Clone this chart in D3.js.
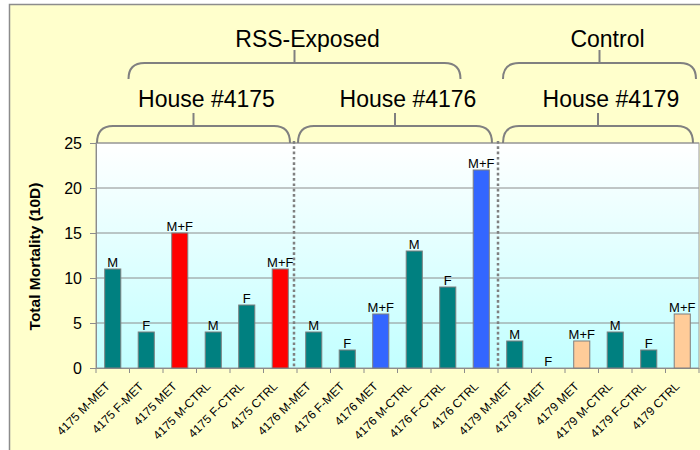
<!DOCTYPE html>
<html>
<head>
<meta charset="UTF-8">
<title>Total Mortality (10D)</title>
<script src="https://d3js.org/d3.v7.min.js"></script>
<style>
  body { margin: 0; background: #fff; }
  svg { display: block; font-family: Arial, 'Liberation Sans', sans-serif; }
</style>
</head>
<body>
<div id="chart"></div>
<script>
// data
const categories = [
  "4175 M-MET", "4175 F-MET", "4175 MET", "4175 M-CTRL", "4175 F-CTRL", "4175 CTRL",
  "4176 M-MET", "4176 F-MET", "4176 MET", "4176 M-CTRL", "4176 F-CTRL", "4176 CTRL",
  "4179 M-MET", "4179 F-MET", "4179 MET", "4179 M-CTRL", "4179 F-CTRL", "4179 CTRL"
];
const values = [11, 4, 15, 4, 7, 11, 4, 2, 6, 13, 9, 22, 3, 0, 3, 4, 2, 6];
const barLabels = ["M", "F", "M+F", "M", "F", "M+F", "M", "F", "M+F", "M", "F", "M+F", "M", "F", "M+F", "M", "F", "M+F"];
const houses = ["House #4175", "House #4176", "House #4179"];
const groups = [
  { name: "RSS-Exposed", from: 1, to: 10 },
  { name: "Control", from: 12, to: 17 }
];
const yTicks = [0, 5, 10, 15, 20, 25];

const W = 700, H = 450;
const M = { top: 143, right: 1, bottom: 82, left: 96 };

const svg = d3.select('#chart').append('svg')
  .attr('width', W).attr('height', H);

// outer frame
svg.append('rect')
  .attr('x', 9.5).attr('y', 4.5).attr('width', W + 10).attr('height', H + 10)
  .attr('fill', '#ffffcc').attr('stroke', '#8c8c8c').attr('stroke-width', 1.5);

const x = d3.scaleBand().domain(categories).range([M.left, W - M.right]).paddingInner(0).paddingOuter(0);
const y = d3.scaleLinear().domain([0, 25]).range([H - M.bottom, M.top]);

// plot background gradient
const defs = svg.append('defs');
const grad = defs.append('linearGradient').attr('id', 'bg')
  .attr('x1', 0).attr('y1', 0).attr('x2', 0).attr('y2', 1);
grad.append('stop').attr('offset', '0%').attr('stop-color', '#ffffff');
grad.append('stop').attr('offset', '100%').attr('stop-color', '#c2ffff');

svg.append('rect')
  .attr('x', M.left).attr('y', M.top)
  .attr('width', W - M.right - M.left).attr('height', y(0) - M.top)
  .attr('fill', 'url(#bg)');

// gridlines
svg.append('g').selectAll('line').data(yTicks.filter(d => d > 0)).join('line')
  .attr('x1', M.left).attr('x2', W - M.right)
  .attr('y1', d => y(d)).attr('y2', d => y(d))
  .attr('stroke', '#8c8c8c').attr('stroke-width', 1);

// plot border
svg.append('rect')
  .attr('x', M.left).attr('y', M.top)
  .attr('width', W - M.right - M.left).attr('height', y(0) - M.top)
  .attr('fill', 'none').attr('stroke', '#9a9a9a').attr('stroke-width', 1);

// y axis
const yAxis = svg.append('g')
  .attr('transform', `translate(${M.left},0)`)
  .call(d3.axisLeft(y).tickValues(yTicks).tickSize(6).tickPadding(8));
yAxis.select('.domain').attr('stroke', '#8c8c8c');
yAxis.selectAll('.tick line').attr('stroke', '#8c8c8c');
yAxis.selectAll('.tick text').attr('font-size', 16).attr('fill', '#000')
  .attr('font-family', 'Arial, Liberation Sans, sans-serif');

svg.append('text')
  .attr('transform', `translate(40,${(M.top + y(0)) / 2 + 1}) rotate(-90)`)
  .attr('text-anchor', 'middle')
  .attr('font-size', 15.5).attr('font-weight', 'bold')
  .text('Total Mortality (10D)');

// x axis
const xAxis = svg.append('g')
  .attr('transform', `translate(0,${y(0)})`)
  .call(d3.axisBottom(x).tickSize(0).tickFormat(''));
xAxis.select('.domain').attr('stroke', '#8c8c8c');
svg.append('g').selectAll('line').data(categories).join('line')
  .attr('x1', d => x(d)).attr('x2', d => x(d))
  .attr('y1', y(0)).attr('y2', y(0) + 5)
  .attr('stroke', '#8c8c8c');
svg.append('line')
  .attr('x1', W - M.right).attr('x2', W - M.right)
  .attr('y1', y(0)).attr('y2', y(0) + 5).attr('stroke', '#8c8c8c');

svg.append('g').selectAll('text').data(categories).join('text')
  .attr('transform', d => `translate(${x(d) + x.bandwidth() / 2 - 2},${y(0) + 19}) rotate(-45)`)
  .attr('text-anchor', 'end')
  .attr('font-size', 12)
  .text(d => d);

// bars
function barColor(i) {
  if (barLabels[i] !== 'M+F') return '#008080';
  const h = categories[i].slice(0, 4);
  if (h === '4175') return '#ff0000';
  if (h === '4176') return '#3366ff';
  return '#ffcc99';
}
const bw = x.bandwidth() * 0.48;
svg.append('g').selectAll('rect').data(values).join('rect')
  .attr('x', (d, i) => x(categories[i]) + (x.bandwidth() - bw) / 2)
  .attr('y', d => y(d))
  .attr('width', bw)
  .attr('height', d => y(0) - y(d))
  .attr('fill', (d, i) => barColor(i))
  .attr('stroke', (d, i) => d > 0 ? '#7f7f7f' : 'none')
  .attr('stroke-width', 1);

svg.append('g').selectAll('text').data(values).join('text')
  .attr('x', (d, i) => x(categories[i]) + x.bandwidth() / 2)
  .attr('y', d => y(d) - 2)
  .attr('text-anchor', 'middle')
  .attr('font-size', 13)
  .attr('fill', '#000')
  .text((d, i) => barLabels[i]);

// dotted separators between houses
[6, 12].forEach(k => {
  const sx = x(categories[k]) - (k === 6 ? 3 : 0);
  svg.append('line')
    .attr('x1', sx).attr('x2', sx)
    .attr('y1', M.top - 2).attr('y2', y(0))
    .attr('stroke', '#808080').attr('stroke-width', 2.5)
    .attr('stroke-dasharray', '2.7,2.6');
});

// braces
function brace(x0, x1, yTop, yTip, tickTop) {
  const r = 16;
  const p = d3.path();
  p.moveTo(x0, yTip);
  p.quadraticCurveTo(x0, yTop, x0 + r, yTop);
  p.lineTo(x1 - r, yTop);
  p.quadraticCurveTo(x1, yTop, x1, yTip);
  svg.append('path').attr('d', p.toString())
    .attr('fill', 'none').attr('stroke', '#808080').attr('stroke-width', 2);
  const c = (x0 + x1) / 2;
  svg.append('line').attr('x1', c).attr('x2', c).attr('y1', yTop).attr('y2', tickTop)
    .attr('stroke', '#808080').attr('stroke-width', 2);
  return c;
}

houses.forEach((h, i) => {
  const a = categories[i * 6], b = categories[i * 6 + 5];
  const x0 = x(a) + (i === 2 ? 5 : 1);
  const x1 = x(b) + x.bandwidth() - (i === 0 ? 7 : 6);
  const c = brace(x0, x1, 126, 143, 113);
  svg.append('text')
    .attr('x', c + 13).attr('y', 107)
    .attr('text-anchor', 'middle').attr('font-size', 23)
    .text(h);
});

groups.forEach((g, i) => {
  const x0 = x(categories[g.from]) + (i === 0 ? -1 : 5);
  const x1 = x(categories[g.to]) + x.bandwidth() - (i === 0 ? 4 : 3);
  const c = brace(x0, x1, 63, 79, 50);
  svg.append('text')
    .attr('x', c + (i === 0 ? 13 : 8)).attr('y', 47)
    .attr('text-anchor', 'middle').attr('font-size', 23)
    .text(g.name);
});
</script>
</body>
</html>
